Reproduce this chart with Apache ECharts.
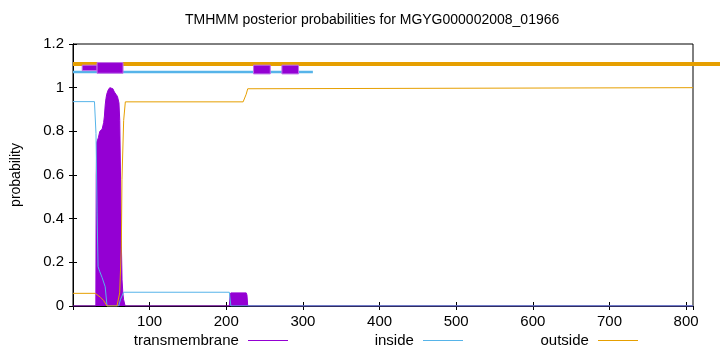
<!DOCTYPE html>
<html>
<head>
<meta charset="utf-8">
<script src="https://cdn.jsdelivr.net/npm/echarts@6/dist/echarts.min.js"></script>
<style>html,body{margin:0;padding:0;background:#fff}#c{width:720px;height:352px}</style>
</head>
<body>
<div id="c"></div>
<script>
var titleText = 'TMHMM posterior probabilities for MGYG000002008_01966';
var seqLength = 809;
var xTicks = [100, 200, 300, 400, 500, 600, 700, 800];
var yTicks = [0, 0.2, 0.4, 0.6, 0.8, 1, 1.2];

// transmembrane posterior (position, probability)
var tmPos = [0, 29.8, 30.3, 31, 33, 35, 38, 40, 41, 42, 43, 44, 46, 48, 52, 54, 56, 58, 60, 61, 62, 63, 64, 65, 66, 68, 204, 205, 206, 226, 227, 228, 809];
var tmVal = [0, 0, 0.6, 0.75, 0.77, 0.80, 0.81, 0.84, 0.87, 0.92, 0.95, 0.97, 0.99, 1.0, 0.995, 0.98, 0.97, 0.96, 0.93, 0.85, 0.6, 0.3, 0.12, 0.06, 0.03, 0, 0, 0.05, 0.06, 0.06, 0.05, 0, 0];

// inside posterior
var inPos = [0, 28, 30, 31.4, 32.7, 35, 38, 42, 44.4, 59.6, 62, 66, 204, 206, 809];
var inVal = [0.936, 0.936, 0.79, 0.43, 0.18, 0.157, 0.13, 0.088, 0, 0, 0.03, 0.063, 0.063, 0, 0];

// outside posterior
var outPos = [0, 29, 31.4, 35.8, 40, 44.4, 57.4, 60.9, 63.1, 63.9, 66.1, 68.3, 222, 224, 226, 228, 230, 809];
var outVal = [0.058, 0.058, 0.05, 0.04, 0.025, 0, 0, 0.06, 0.27, 0.58, 0.85, 0.935, 0.935, 0.94, 0.97, 0.995, 1.0, 1.0];

// topology bars above the curves: [start, end, yLow, yHigh]
var topOutside = [[0, 850, 1.099, 1.117]];
var topInside = [[0, 313, 1.066, 1.078]];
var topTM = [[12, 31.4, 1.078, 1.103], [31.4, 65.3, 1.066, 1.115], [235.6, 257.4, 1.063, 1.103], [272.6, 294.3, 1.063, 1.103]];

function pairs(p, v) { return p.map(function (x, i) { return [x, v[i]]; }); }

var C_TM = '#9400d3', C_IN = '#56b4e9', C_OUT = '#e69f00';
var FONT = 'Liberation Sans';

function rectSeries(name, data, color, stroke, z) {
  return {
    type: 'custom', name: name, data: data, clip: false, z: z, silent: true,
    encode: { x: [0, 1], y: [2, 3] },
    renderItem: function (params, api) {
      var p0 = api.coord([api.value(0), api.value(3)]);
      var p1 = api.coord([api.value(1), api.value(2)]);
      return {
        type: 'rect',
        shape: { x: p0[0], y: p0[1], width: p1[0] - p0[0], height: p1[1] - p0[1] },
        style: { fill: color, stroke: stroke, lineWidth: stroke ? 1 : 0 }
      };
    }
  };
}

function legendAt(name, right) {
  return {
    data: [name], right: right, top: 333, padding: 0, align: 'right', icon: 'rect',
    itemWidth: 40, itemHeight: 1,
    formatter: function (n) { return n + ' '; },
    textStyle: { fontFamily: FONT, fontSize: 15, color: '#000' }
  };
}

var tickStyle = { show: true, inside: true, length: 4, lineStyle: { color: '#000' } };

var chart = echarts.init(document.getElementById('c'), null, { renderer: 'canvas' });
chart.setOption({
  animation: false,
  backgroundColor: '#fff',
  title: {
    text: titleText, left: 185, top: 13, padding: 0,
    textStyle: { fontFamily: FONT, fontSize: 14, fontWeight: 'normal', color: '#000' }
  },
  grid: { left: 73, right: 27, top: 44, bottom: 46, show: true, borderColor: '#000', borderWidth: 1 },
  legend: [legendAt('transmembrane', 432), legendAt('inside', 257), legendAt('outside', 82)],
  xAxis: [{
    type: 'value', min: 0, max: seqLength, interval: 100,
    axisLine: { show: true, lineStyle: { color: '#000' } },
    axisTick: tickStyle,
    splitLine: { show: false },
    axisLabel: {
      fontFamily: FONT, fontSize: 15, color: '#000', margin: 8, showMaxLabel: false,
      formatter: function (v) { return xTicks.indexOf(v) >= 0 ? String(v) : ''; }
    }
  }, {
    type: 'value', min: 0, max: seqLength, interval: 100, position: 'top',
    axisLine: { show: true, lineStyle: { color: '#000' } },
    axisTick: tickStyle, axisLabel: { show: false }, splitLine: { show: false }
  }],
  yAxis: [{
    type: 'value', min: 0, max: 1.2, interval: 0.2,
    name: 'probability', nameLocation: 'middle', nameGap: 50,
    nameTextStyle: { fontFamily: FONT, fontSize: 14, color: '#000' },
    axisLine: { show: true, lineStyle: { color: '#000' } },
    axisTick: tickStyle,
    splitLine: { show: false },
    axisLabel: {
      fontFamily: FONT, fontSize: 15, color: '#000', margin: 9,
      formatter: function (v) { var r = Math.round(v * 10) / 10; return yTicks.indexOf(r) >= 0 ? String(r) : ''; }
    }
  }, {
    type: 'value', min: 0, max: 1.2, interval: 0.2, position: 'right',
    axisLine: { show: true, lineStyle: { color: '#000' } },
    axisTick: tickStyle, axisLabel: { show: false }, splitLine: { show: false }
  }],
  series: [
    {
      type: 'line', name: 'transmembrane', data: pairs(tmPos, tmVal), symbol: 'none',
      lineStyle: { color: C_TM, width: 1 }, itemStyle: { color: C_TM },
      areaStyle: { color: C_TM, opacity: 1 }, z: 2
    },
    {
      type: 'line', name: 'inside', data: pairs(inPos, inVal), symbol: 'none',
      lineStyle: { color: C_IN, width: 1 }, itemStyle: { color: C_IN }, z: 3
    },
    {
      type: 'line', name: 'outside', data: pairs(outPos, outVal), symbol: 'none',
      lineStyle: { color: C_OUT, width: 1 }, itemStyle: { color: C_OUT }, z: 3
    },
    rectSeries('topOutside', topOutside, C_OUT, null, 4),
    rectSeries('topInside', topInside, C_IN, null, 5),
    rectSeries('topTM', topTM, C_TM, '#c070e8', 6)
  ]
});
</script>
</body>
</html>
